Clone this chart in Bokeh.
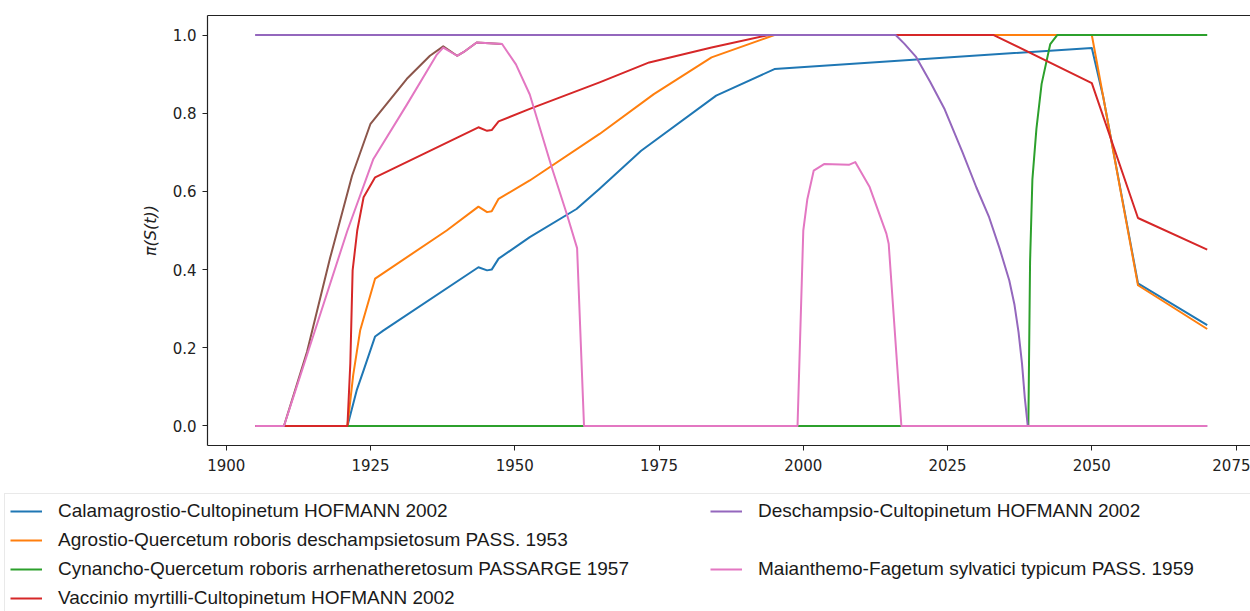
from bokeh.plotting import figure
from bokeh.layouts import column
from bokeh.models import (FixedTicker, PrintfTickFormatter, LinearAxis, Legend,
                          LegendItem, Range1d)
from bokeh.embed import file_html
from bokeh.resources import INLINE

# --- community suitability curves pi(S(t)) over time -------------------------
calam_x = [1905, 1921, 1922.6, 1923.8, 1925.8, 1927.2, 1943.7, 1945.2, 1946.0, 1947.2,
           1952.6, 1960.7, 1964.7, 1971.9, 1984.9, 1995.0, 2050.0, 2052.0, 2058.0, 2070]
calam_y = [0, 0, 0.091, 0.142, 0.229, 0.244, 0.406, 0.398, 0.400, 0.428,
           0.483, 0.555, 0.607, 0.704, 0.845, 0.913, 0.967, 0.840, 0.365, 0.258]

agro_x = [1905, 1921, 1922.0, 1923.2, 1925.8, 1938.2, 1943.7, 1945.2, 1946.0, 1947.2,
          1952.6, 1964.7, 1974.1, 1984.1, 1995.0, 2050.0, 2058.0, 2070]
agro_y = [0, 0, 0.13, 0.244, 0.377, 0.5, 0.561, 0.547, 0.549, 0.581,
          0.628, 0.747, 0.849, 0.943, 1.0, 1.0, 0.36, 0.248]

cyn_x = [1905, 2039.0, 2039.3, 2039.7, 2040.4, 2041.3, 2042.8, 2044.0, 2070]
cyn_y = [0, 0, 0.42, 0.63, 0.76, 0.875, 0.977, 1.0, 1.0]

vacc_x = [1905, 1921, 1921.5, 1921.9, 1922.7, 1923.8, 1925.8, 1943.7, 1945.2, 1946.0,
          1947.2, 1952.6, 1964.7, 1973.3, 1984.1, 1994.0, 2033.0, 2050.0, 2058.0, 2070]
vacc_y = [0, 0, 0.16, 0.398, 0.5, 0.585, 0.636, 0.764, 0.755, 0.757,
          0.779, 0.811, 0.879, 0.93, 0.968, 1.0, 1.0, 0.877, 0.532, 0.451]

desch_x = [1905, 2016.0, 2017.5, 2019.5, 2022.0, 2024.5, 2027.6, 2030.0, 2032.2,
           2034.0, 2035.7, 2036.6, 2037.3, 2037.9, 2038.4, 2038.9, 2070]
desch_y = [1.0, 1.0, 0.978, 0.945, 0.88, 0.81, 0.70, 0.61, 0.534,
           0.455, 0.372, 0.31, 0.24, 0.16, 0.07, 0, 0]

brown_x = [1905, 1910.0, 1914.0, 1918.0, 1921.8, 1925.0, 1931.3, 1935.3, 1937.6,
           1940.0, 1941.1, 1943.4, 1947.8]
brown_y = [0, 0, 0.19, 0.43, 0.64, 0.773, 0.888, 0.947, 0.971,
           0.947, 0.956, 0.981, 0.977]

maian_x = [1905, 1910.0, 1921.0, 1925.5, 1931.3, 1936.5, 1937.6, 1940.0, 1941.1, 1943.4,
           1947.8, 1950.2, 1952.6, 1956.4, 1959.0, 1960.8, 1962.0, 1999.0, 2000.0,
           2000.7, 2001.8, 2003.6, 2007.9, 2009.0, 2011.5, 2014.4, 2014.8, 2017.0, 2070]
maian_y = [0, 0, 0.5, 0.683, 0.822, 0.950, 0.968, 0.947, 0.956, 0.981,
           0.977, 0.925, 0.848, 0.662, 0.543, 0.455, 0, 0, 0.50,
           0.58, 0.653, 0.67, 0.668, 0.675, 0.611, 0.492, 0.466, 0, 0]

labels = [
    "Calamagrostio-Cultopinetum HOFMANN 2002",
    "Agrostio-Quercetum roboris deschampsietosum PASS. 1953",
    "Cynancho-Quercetum roboris arrhenatheretosum PASSARGE 1957",
    "Vaccinio myrtilli-Cultopinetum HOFMANN 2002",
    "Deschampsio-Cultopinetum HOFMANN 2002",
    "Maianthemo-Fagetum sylvatici typicum PASS. 1959",
]

x_ticks = [1900, 1925, 1950, 1975, 2000, 2025, 2050, 2075]
y_ticks = [0.0, 0.2, 0.4, 0.6, 0.8, 1.0]

colors = {"blue": "#1f77b4", "orange": "#ff7f0e", "green": "#2ca02c", "red": "#d62728",
          "purple": "#9467bd", "brown": "#8c564b", "pink": "#e377c2"}

# --- main chart ---------------------------------------------------------------
p = figure(width=1250, height=490,
           x_range=Range1d(1896.75, 2077.5), y_range=Range1d(-0.05, 1.05),
           output_backend="svg", toolbar_location=None,
           min_border_left=207, min_border_right=0,
           min_border_top=15, min_border_bottom=45)
p.frame_align = False
p.grid.visible = False
p.outline_line_color = None
p.background_fill_color = "white"
p.border_fill_color = "white"

tick_font = "DejaVu Sans"
for ax in (p.xaxis[0], p.yaxis[0]):
    ax.axis_line_color = "#222222"
    ax.axis_line_width = 1.2
    ax.major_tick_line_color = "#222222"
    ax.major_tick_in = 0
    ax.major_tick_out = 5
    ax.minor_tick_line_color = None
    ax.major_label_text_font = tick_font
    ax.major_label_text_font_size = "15px"
    ax.major_label_text_color = "#222222"

p.xaxis.ticker = FixedTicker(ticks=x_ticks)
p.xaxis.major_label_standoff = 8
p.yaxis.ticker = FixedTicker(ticks=y_ticks)
p.yaxis.formatter = PrintfTickFormatter(format="%.1f")
p.yaxis.major_label_standoff = 6
p.yaxis.axis_label = "π(S(t))"
p.yaxis.axis_label_text_font = tick_font
p.yaxis.axis_label_text_font_style = "italic"
p.yaxis.axis_label_text_font_size = "16px"
p.yaxis.axis_label_text_color = "#222222"
p.yaxis.axis_label_standoff = 10

# top edge of the frame
top = LinearAxis(ticker=FixedTicker(ticks=[]), axis_line_color="#222222",
                 axis_line_width=1.2, major_tick_line_color=None,
                 minor_tick_line_color=None)
p.add_layout(top, "above")

kw = dict(line_width=2, line_join="round")
series = [
    (calam_x, calam_y, "blue"),
    (agro_x, agro_y, "orange"),
    (cyn_x, cyn_y, "green"),
    (vacc_x, vacc_y, "red"),
    (desch_x, desch_y, "purple"),
    (brown_x, brown_y, "brown"),
    (maian_x, maian_y, "pink"),
]
for xs, ys, c in series:
    p.line(xs, ys, line_color=colors[c], **kw)

# --- legend panel below the chart ---------------------------------------------
lg = figure(width=1250, height=121, x_range=Range1d(0, 1), y_range=Range1d(0, 1),
            output_backend="svg", toolbar_location=None,
            x_axis_type=None, y_axis_type=None, min_border=0)
lg.frame_align = False
lg.grid.visible = False
lg.outline_line_color = None
lg.background_fill_color = "white"
lg.border_fill_color = "white"

def key(c):
    # legend swatch renderer, kept outside the visible range
    return lg.line([-5, -4], [-5, -4], line_color=colors[c], **kw)

blank = lg.line([-5, -4], [-5, -4], line_alpha=0)
items = [
    LegendItem(label=labels[0], renderers=[key("blue")]),
    LegendItem(label=labels[1], renderers=[key("orange")]),
    LegendItem(label=labels[2], renderers=[key("green")]),
    LegendItem(label=labels[3], renderers=[key("red")]),
    LegendItem(label=labels[4], renderers=[key("purple")]),
    LegendItem(label=" ", renderers=[blank]),
    LegendItem(label=labels[5], renderers=[key("pink")]),
    LegendItem(label=" ", renderers=[blank]),
]
legend = Legend(items=items, location=(4, -5), orientation="vertical", nrows=4,
                glyph_width=32, glyph_height=24, label_height=24, label_width=647,
                label_standoff=16, spacing=5, padding=5, margin=0,
                label_text_font="Liberation Sans", label_text_font_size="19px",
                label_text_color="#1a1a1a",
                border_line_color="#d4d4d4", border_line_width=1,
                background_fill_color="white", background_fill_alpha=1.0)
lg.add_layout(legend)

open("out.html", "w").write(file_html(column(p, lg, spacing=0), INLINE))
